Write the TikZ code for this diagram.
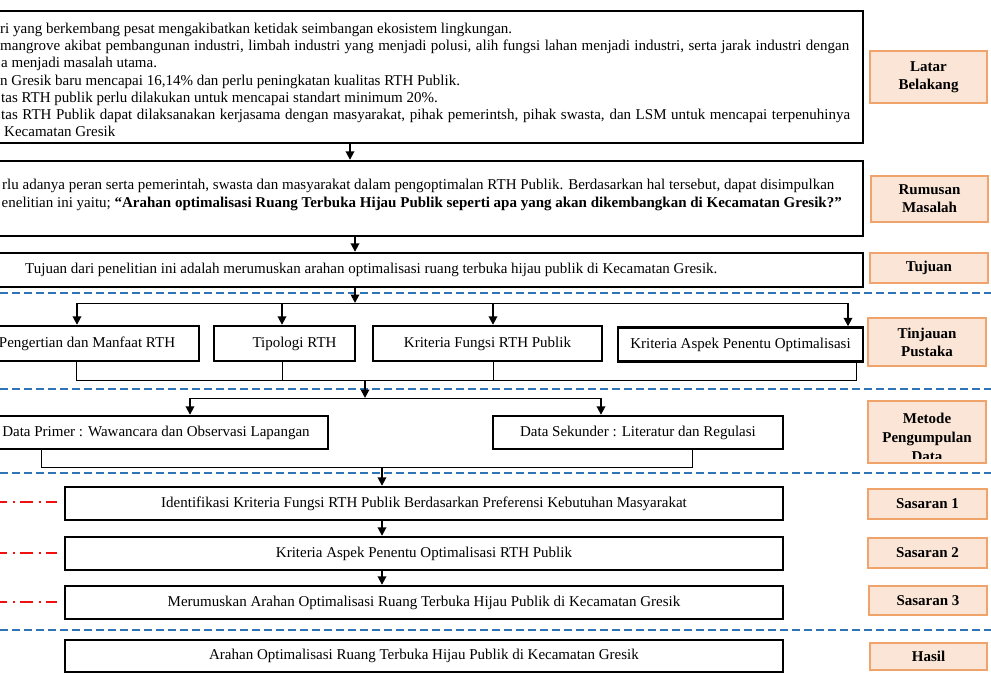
\documentclass[tikz,border=0pt]{standalone}
\usepackage{fontspec}
\setmainfont{Liberation Serif}
\usetikzlibrary{arrows.meta}
\definecolor{labfill}{HTML}{FBE5D6}
\definecolor{labdraw}{HTML}{F1A36C}
\definecolor{sepblue}{HTML}{2E75B6}
\definecolor{sepred}{HTML}{F01010}
\tikzset{
  box/.style={draw=black, line width=2.4pt, inner sep=0pt},
  lab/.style={draw=labdraw, fill=labfill, line width=1.6pt, inner sep=0pt, align=center,
              font=\fontsize{15}{18}\selectfont\bfseries},
  arr/.style={line width=1.8pt, -{Triangle[length=8.5pt,width=8.5pt]}},
  conn/.style={line width=1pt},
  sep/.style={draw=sepblue, line width=2.2pt, dash pattern=on 7.5pt off 4.5pt},
  redsep/.style={draw=sepred, line width=1.6pt, dash pattern=on 13pt off 5.5pt on 2pt off 5.5pt, dash phase=6pt},
  txt/.style={inner sep=0pt, anchor=mid west},
}
\begin{document}
\begin{tikzpicture}[x=1pt,y=-1pt, font=\fontsize{15}{18}\selectfont]
\useasboundingbox (0,0) rectangle (991,675);
\clip (0,0) rectangle (991,675);

% ---------- Latar Belakang ----------
\node[box, minimum width=873pt, minimum height=132pt] (b1) at (426.5,77) {};
\node[txt] (b1l1) at (0,31.3) {ri yang berkembang pesat mengakibatkan ketidak seimbangan ekosistem lingkungan.};
\node[txt] (b1l2) at (0,48.5) {\makebox[849pt][s]{mangrove akibat pembangunan industri, limbah industri yang menjadi polusi, alih fungsi lahan menjadi industri, serta jarak industri dengan}};
\node[txt] (b1l3) at (1,65.7) {a menjadi masalah utama.};
\node[txt] (b1l4) at (0,83) {n Gresik baru mencapai 16,14\% dan perlu peningkatan kualitas RTH Publik.};
\node[txt] (b1l5) at (1,100) {tas RTH publik perlu dilakukan untuk mencapai standart minimum 20\%.};
\node[txt] (b1l6) at (1,117) {\makebox[849pt][s]{tas RTH Publik dapat dilaksanakan kerjasama dengan masyarakat, pihak pemerintsh, pihak swasta, dan LSM untuk mencapai terpenuhinya}};
\node[txt] (b1l7) at (4,134.5) {Kecamatan Gresik};
\node[lab, minimum width=117pt, minimum height=52pt] (lb1) at (928.5,77) {Latar\\Belakang};

% ---------- Rumusan Masalah ----------
\node[box, minimum width=873pt, minimum height=75pt] (b2) at (426.5,198.5) {};
\node[txt] (b2l1) at (2,187) {rlu adanya peran serta pemerintah, swasta dan masyarakat dalam pengoptimalan RTH Publik. Berdasarkan hal tersebut, dapat disimpulkan};
\node[txt] (b2l2) at (1.5,205.5) {enelitian ini yaitu; \textbf{“Arahan optimalisasi Ruang Terbuka Hijau Publik seperti apa yang akan dikembangkan di Kecamatan Gresik?”}};
\node[lab, minimum width=117pt, minimum height=46pt] (lb2) at (929.5,199) {Rumusan\\Masalah};

% ---------- Tujuan ----------
\node[box, minimum width=873pt, minimum height=34pt] (b3) at (426.5,270) {};
\node[txt] (b3t) at (25,271.5) {Tujuan dari penelitian ini adalah merumuskan arahan optimalisasi ruang terbuka hijau publik di Kecamatan Gresik.};
\node[lab, minimum width=118pt, minimum height=30pt] (lb3) at (929,268) {Tujuan};

\coordinate (ca) at (350,0);
\coordinate (cb) at (355,0);
\draw[arr] (b1.south -| ca) -- (b2.north -| ca);
\draw[arr] (b2.south -| cb) -- (b3.north -| cb);

% ---------- separators ----------
\coordinate (s1a) at (0,293);   \coordinate (s1b) at (991,293);
\coordinate (s2a) at (0,389);   \coordinate (s2b) at (991,389);
\coordinate (s3a) at (0,473);   \coordinate (s3b) at (991,473);
\coordinate (s4a) at (0,630);   \coordinate (s4b) at (991,630);
\draw[sep] (s1a) -- (s1b);
\draw[sep] (s2a) -- (s2b);
\draw[sep] (s3a) -- (s3b);
\draw[sep] (s4a) -- (s4b);

% ---------- Tinjauan Pustaka ----------
\node[box, minimum width=224pt, minimum height=35pt] (p1) at (87,343.5) {Pengertian dan Manfaat RTH};
\node[box, minimum width=141pt, minimum height=35pt] (p2) at (284.5,343.5) {\hspace*{20pt}Tipologi RTH};
\node[box, minimum width=229pt, minimum height=35pt] (p3) at (487.5,343.5) {Kriteria Fungsi RTH Publik};
\node[box, minimum width=245pt, minimum height=34pt] (p4) at (740.5,344.5) {Kriteria Aspek Penentu Optimalisasi};
\node[lab, minimum width=118pt, minimum height=48pt] (lb4) at (927,342) {Tinjauan\\Pustaka};

\coordinate (t0) at (355,303);
\coordinate (t1) at (77,303);
\coordinate (t2) at (282,303);
\coordinate (t3) at (493,303);
\coordinate (t4) at (848,303);
\draw[arr] (b3.south -| t0) -- (t0);
\draw[conn] (t1) -- (t4);
\draw[arr] (t1) -- (p1.north -| t1);
\draw[arr] (t2) -- (p2.north -| t2);
\draw[arr] (t3) -- (p3.north -| t3);
\draw[arr] (t4) -- (p4.north -| t4);

\coordinate (u1) at (76,380);
\coordinate (u2) at (282,380);
\coordinate (u3) at (493,380);
\coordinate (u4) at (856,380);
\draw[conn] (p1.south -| u1) -- (u1) -- (u4) -- (p4.south -| u4);
\draw[conn] (p2.south -| u2) -- (u2);
\draw[conn] (p3.south -| u3) -- (u3);

% ---------- Metode Pengumpulan Data ----------
\node[box, minimum width=344pt, minimum height=33pt] (d1) at (156,432.5) {Data Primer : Wawancara dan Observasi Lapangan};
\node[box, minimum width=290pt, minimum height=33pt] (d2) at (638,432.5) {Data Sekunder : Literatur dan Regulasi};
\node[fill=labfill, draw=none, inner sep=0pt, outer sep=0pt, minimum width=118pt, minimum height=62pt] (lb5) at (927,432) {};
\begin{scope}
  \clip ([shift={(0.8pt,4.5pt)}]lb5.south west) rectangle ([shift={(-0.8pt,-0.8pt)}]lb5.north east);
  \node[inner sep=0pt, align=center, font=\fontsize{15}{19}\selectfont\bfseries] (lb5t) at (927,437.5) {Metode\\Pengumpulan\\Data};
\end{scope}
\draw[labdraw, line width=1.6pt] (lb5.south west) rectangle (lb5.north east);

\coordinate (v0) at (365,380);
\coordinate (v) at (365,398);
\coordinate (v1) at (190,398);
\coordinate (v2) at (601,398);
\draw[arr] (v0) -- (v);
\draw[conn] (v1) -- (v2);
\draw[arr] (v1) -- (d1.north -| v1);
\draw[arr] (v2) -- (d2.north -| v2);

\coordinate (w1) at (41,467);
\coordinate (w2) at (692,467);
\coordinate (w0) at (382,467);
\draw[conn] (d1.south -| w1) -- (w1) -- (w2) -- (d2.south -| w2);

% ---------- Sasaran ----------
\node[box, minimum width=718pt, minimum height=33pt] (sa1) at (424,503.5) {Identifikasi Kriteria Fungsi RTH Publik Berdasarkan Preferensi Kebutuhan Masyarakat};
\node[box, minimum width=718pt, minimum height=33pt] (sa2) at (424,553.5) {Kriteria Aspek Penentu Optimalisasi RTH Publik};
\node[box, minimum width=718pt, minimum height=33pt] (sa3) at (424,602.5) {Merumuskan Arahan Optimalisasi Ruang Terbuka Hijau Publik di Kecamatan Gresik};
\node[box, minimum width=718pt, minimum height=32pt] (ha) at (424,656) {Arahan Optimalisasi Ruang Terbuka Hijau Publik di Kecamatan Gresik};

\draw[arr] (w0) -- (sa1.north -| w0);
\draw[arr] (sa1.south -| w0) -- (sa2.north -| w0);
\draw[arr] (sa2.south -| w0) -- (sa3.north -| w0);

\node[lab, minimum width=119pt, minimum height=30pt] (lb6) at (927.5,504) {Sasaran 1};
\node[lab, minimum width=119pt, minimum height=30pt] (lb7) at (927.5,553) {Sasaran 2};
\node[lab, minimum width=118pt, minimum height=29pt] (lb8) at (928,600.5) {Sasaran 3};
\node[lab, minimum width=117pt, minimum height=27pt] (lb9) at (928.5,656.5) {Hasil};

\coordinate (r1a) at (0,502);   \coordinate (r1b) at (57,502);
\coordinate (r2a) at (0,553);   \coordinate (r2b) at (57,553);
\coordinate (r3a) at (0,602);   \coordinate (r3b) at (57,602);
\draw[redsep] (r1a) -- (r1b);
\draw[redsep] (r2a) -- (r2b);
\draw[redsep] (r3a) -- (r3b);
\end{tikzpicture}
\end{document}
